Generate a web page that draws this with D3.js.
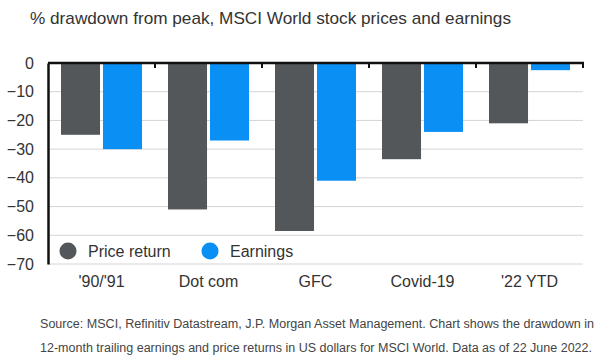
<!DOCTYPE html>
<html><head><meta charset="utf-8">
<script src="https://cdn.jsdelivr.net/npm/d3@7"></script>
<style>body{margin:0;background:#fff;}svg{display:block;font-family:"Liberation Sans",Arial,sans-serif;}</style>
</head><body>
<svg id="c" width="600" height="360"></svg>
<script>
const categories = ["'90/'91", "Dot com", "GFC", "Covid-19", "'22 YTD"];
const priceReturn = [-25, -51, -58.5, -33.5, -21];
const earnings = [-30, -27, -41, -24, -2.5];
const seriesNames = ["Price return", "Earnings"];
const colors = ["#54575a", "#0a8ff4"];
const yTicks = [0, -10, -20, -30, -40, -50, -60, -70];
const title = "% drawdown from peak, MSCI World stock prices and earnings";
const source = ["Source: MSCI, Refinitiv Datastream, J.P. Morgan Asset Management. Chart shows the drawdown in",
                "12-month trailing earnings and price returns in US dollars for MSCI World. Data as of 22 June 2022."];

const svg = d3.select("#c");
const L = 48, R = 583, T = 63, B = 264;
const x = d3.scaleBand().domain(categories).range([L, R]).paddingInner(0).paddingOuter(0);
const y = d3.scaleLinear().domain([0, -70]).range([T, B]);
const inner = d3.scaleBand().domain(seriesNames).range([13, x.bandwidth() - 13]).paddingInner(0.07);

// title
svg.append("text").attr("x", 30).attr("y", 24).attr("font-size", 17).attr("fill", "#333")
  .attr("textLength", 481).attr("lengthAdjust", "spacingAndGlyphs").text(title);

// gridlines
svg.append("g").selectAll("line").data(yTicks.filter(d => d !== 0)).join("line")
  .attr("x1", L).attr("x2", R).attr("y1", d => y(d)).attr("y2", d => y(d))
  .attr("stroke", "#d4d4d4").attr("stroke-width", 1);

// bars
const data = categories.map((c, i) => ({c, vals: [priceReturn[i], earnings[i]]}));
const g = svg.append("g");
data.forEach(d => {
  d.vals.forEach((v, j) => {
    g.append("rect")
      .attr("x", x(d.c) + inner(seriesNames[j]))
      .attr("y", y(0))
      .attr("width", inner.bandwidth())
      .attr("height", y(v) - y(0))
      .attr("fill", colors[j]);
  });
});

// y axis
const yAxis = d3.axisLeft(y).tickValues(yTicks).tickSize(0).tickPadding(14).tickFormat(d3.format("d"));
const ya = svg.append("g").attr("transform", `translate(${L},0)`).call(yAxis);
ya.select(".domain").attr("stroke", "#111").attr("stroke-width", 2.5);
ya.selectAll("text").attr("font-size", 16).attr("fill", "#333").attr("font-family", "Liberation Sans, Arial, sans-serif");

// zero line with ticks at band boundaries
const boundaries = categories.slice(1).map(c => x(c)).concat([R]);
svg.append("line").attr("x1", L).attr("x2", R + 1).attr("y1", y(0)).attr("y2", y(0))
  .attr("stroke", "#111").attr("stroke-width", 2.5);
svg.append("g").selectAll("line").data(boundaries).join("line")
  .attr("x1", d => d).attr("x2", d => d).attr("y1", y(0)).attr("y2", y(0) + 5)
  .attr("stroke", "#111").attr("stroke-width", 2);

// x labels
svg.append("g").selectAll("text").data(categories).join("text")
  .attr("x", d => x(d) + x.bandwidth() / 2).attr("y", 287)
  .attr("text-anchor", "middle").attr("font-size", 16).attr("fill", "#333").text(d => d);

// legend
const lg = svg.append("g");
const legX = [68, 210];
seriesNames.forEach((s, i) => {
  lg.append("circle").attr("cx", legX[i]).attr("cy", 251).attr("r", 8.5).attr("fill", colors[i]);
  lg.append("text").attr("x", legX[i] + 20).attr("y", 256.5).attr("font-size", 16).attr("fill", "#333").text(s);
});

// source
svg.append("g").selectAll("text").data(source).join("text")
  .attr("x", 40).attr("y", (d, i) => 328 + i * 24).attr("font-size", 12.5).attr("fill", "#444")
  .attr("textLength", (d, i) => i === 0 ? 554 : 552).attr("lengthAdjust", "spacingAndGlyphs").text(d => d);
</script>
</body></html>
